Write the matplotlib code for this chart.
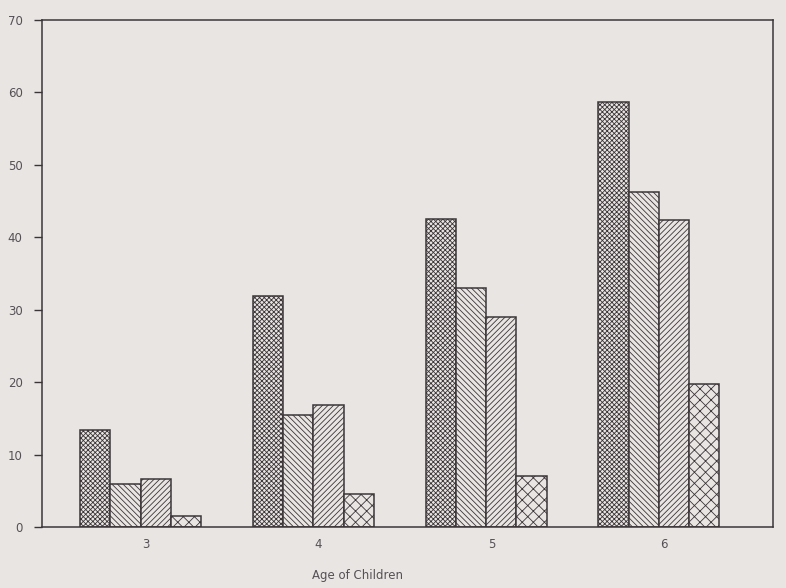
import numpy as np
import matplotlib.pyplot as plt

# Valores por grupo de edad (4 series por grupo)
ages = [3, 4, 5, 6]
serie_a = [13.4, 31.9, 42.5, 58.7]
serie_b = [5.9, 15.4, 33.0, 46.3]
serie_c = [6.6, 16.9, 29.0, 42.4]
serie_d = [1.5, 4.5, 7.0, 19.7]
y_ticks = [0, 10, 20, 30, 40, 50, 60, 70]

paper = '#e9e5e3'
ink = '#3b3538'

plt.rcParams['hatch.linewidth'] = 0.6
plt.rcParams['hatch.color'] = '#4a4347'

fig = plt.figure(figsize=(7.86, 5.88), dpi=100, facecolor=paper)
ax = fig.add_axes([42/786, 1 - 527/588, 731/786, 507/588])
ax.set_facecolor(paper)

x = np.array(ages, dtype=float)
w = 0.175
series = [(serie_a, 'xxxxxxx'), (serie_b, '\\' * 6),
          (serie_c, '/' * 6), (serie_d, 'xxx')]
for i, (vals, hatch) in enumerate(series):
    ax.bar(x + (i - 1.5) * w - 0.03, vals, width=w, color=paper,
           edgecolor=ink, linewidth=1.1, hatch=hatch)

ax.set_xlim(2.40, 6.63)
ax.set_ylim(0, 70)
ax.set_xticks(ages)
ax.set_yticks(y_ticks)
ax.tick_params(axis='x', length=0, pad=8, labelsize=8.5, labelcolor='#555055')
ax.tick_params(axis='y', direction='out', length=6, width=1, color=ink,
               pad=8, labelsize=8.5, labelcolor='#555055')

for s in ax.spines.values():
    s.set_color(ink)
    s.set_linewidth(1.1)

fig.text(358/786, 1 - 575/588, 'Age of Children', ha='center', va='center',
         fontsize=8.5, color='#555055')

fig.savefig('out.png', dpi=100, facecolor=paper)
